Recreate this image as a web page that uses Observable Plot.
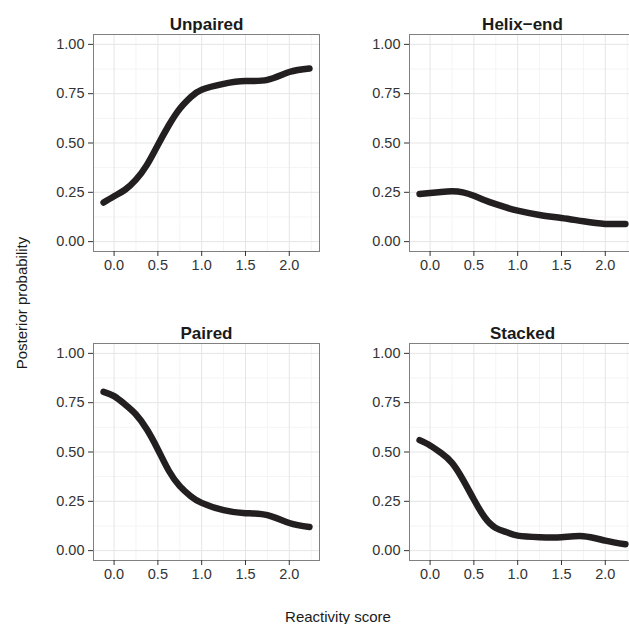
<!DOCTYPE html>
<html><head><meta charset="utf-8">
<script src="https://cdn.jsdelivr.net/npm/d3@7"></script>
<script src="https://cdn.jsdelivr.net/npm/@observablehq/plot@0.6"></script>
<style>
html,body{margin:0;padding:0;background:#fff;}
#chart{position:relative;width:629px;height:624px;overflow:hidden;font-family:"Liberation Sans",Arial,Helvetica,sans-serif;background:#fff;}
#chart svg{position:absolute;}
.ylab{position:absolute;left:21px;top:303px;transform:translate(-50%,-50%) rotate(-90deg);font-size:15px;color:#1a1a1a;white-space:nowrap;}
.xlab{position:absolute;left:338px;top:616px;transform:translate(-50%,-50%);font-size:15px;color:#1a1a1a;white-space:nowrap;}
</style>
</head><body>
<div id="chart">
  <div class="ylab">Posterior probability</div>
  <div class="xlab">Reactivity score</div>
</div>
<script>
const panelTitles = ["Unpaired", "Helix\u2212end", "Paired", "Stacked"];
const reactivity = [-0.12, 0.0, 0.125, 0.25, 0.375, 0.5, 0.625, 0.75, 0.875, 1.0, 1.25, 1.5, 1.75, 2.0, 2.23];
const unpaired  = [0.198, 0.23, 0.263, 0.314, 0.389, 0.49, 0.59, 0.674, 0.733, 0.77, 0.80, 0.814, 0.82, 0.86, 0.878];
const helixEnd  = [0.242, 0.247, 0.252, 0.255, 0.25, 0.233, 0.21, 0.19, 0.172, 0.157, 0.135, 0.12, 0.103, 0.09, 0.09];
const paired    = [0.805, 0.783, 0.741, 0.69, 0.614, 0.513, 0.405, 0.327, 0.276, 0.242, 0.205, 0.19, 0.18, 0.14, 0.12];
const stacked   = [0.56, 0.533, 0.495, 0.445, 0.36, 0.259, 0.168, 0.115, 0.093, 0.076, 0.068, 0.068, 0.073, 0.051, 0.032];
const xTicks = [0, 0.5, 1.0, 1.5, 2.0];
const xMinor = [0.25, 0.75, 1.25, 1.75, 2.25];
const yTicks = [0, 0.25, 0.5, 0.75, 1.0];
const yMinor = [0.125, 0.375, 0.625, 0.875];

const series = [unpaired, helixEnd, paired, stacked];
const positions = [[0, 0], [316, 0], [0, 309], [316, 309]];
const chart = document.getElementById("chart");

series.forEach((ys, k) => {
  const data = reactivity.map((x, i) => ({x, y: ys[i]}));
  const svg = Plot.plot({
    width: 320, height: 281,
    marginLeft: 93, marginRight: 1, marginTop: 34, marginBottom: 30,
    x: {domain: [-0.235, 2.345]},
    y: {domain: [-0.05, 1.05]},
    style: {fontFamily: '"Liberation Sans", Arial, Helvetica, sans-serif', background: "transparent", overflow: "visible"},
    marks: [
      Plot.gridX(xMinor, {stroke: "#f4f4f4", strokeOpacity: 1}),
      Plot.gridY(yMinor, {stroke: "#f4f4f4", strokeOpacity: 1}),
      Plot.gridX(xTicks, {stroke: "#e5e5e5", strokeOpacity: 1}),
      Plot.gridY(yTicks, {stroke: "#e5e5e5", strokeOpacity: 1}),
      Plot.line(data, {x: "x", y: "y", curve: "natural", stroke: "#231f20", strokeWidth: 6.5, strokeLinecap: "round", strokeLinejoin: "round"}),
      Plot.frame({stroke: "#808080", strokeWidth: 1}),
      Plot.axisX(xTicks, {tickFormat: d3.format(".1f"), tickSize: 5, tickPadding: 3, label: null, fontSize: 14.5, color: "#333"}),
      Plot.axisY(yTicks, {tickFormat: d3.format(".2f"), tickSize: 5, tickPadding: 4, label: null, fontSize: 14.5, color: "#333"}),
      Plot.text([panelTitles[k]], {frameAnchor: "top", lineAnchor: "bottom", dy: -5, fontWeight: "bold", fontSize: 17, fill: "#1a1a1a"})
    ]
  });
  svg.style.left = positions[k][0] + "px";
  svg.style.top = positions[k][1] + "px";
  chart.appendChild(svg);
});
</script>
</body></html>
